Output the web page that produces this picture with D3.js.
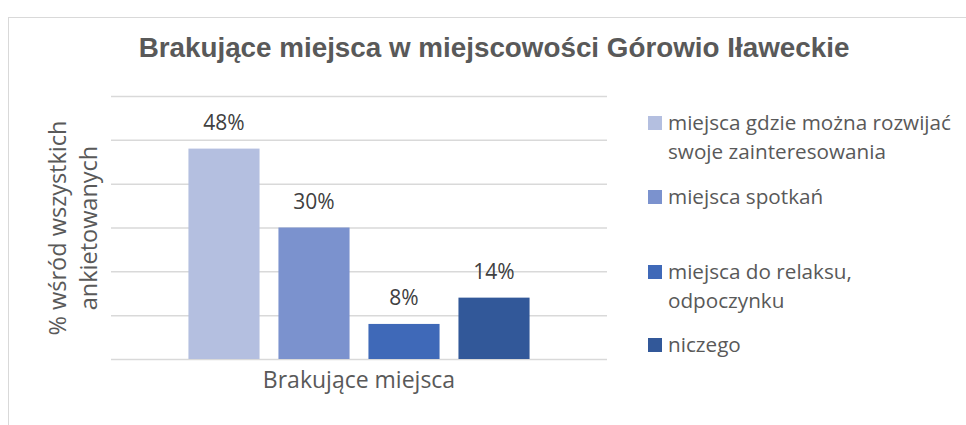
<!DOCTYPE html>
<html>
<head>
<meta charset="utf-8">
<title>Brakujące miejsca</title>
<script src="https://cdn.jsdelivr.net/npm/d3@7"></script>
<style>
  body { margin: 0; background: #fff; }
  text { font-family: "Open Sans", "Noto Sans", sans-serif; }
</style>
</head>
<body>
<div id="chart"></div>
<script>
// data
var categories = ["Brakujące miejsca"];
var series = ["miejsca gdzie można rozwijać swoje zainteresowania", "miejsca spotkań", "miejsca do relaksu, odpoczynku", "niczego"];
var legendLines = [["miejsca gdzie można rozwijać", "swoje zainteresowania"], ["miejsca spotkań"], ["miejsca do relaksu,", "odpoczynku"], ["niczego"]];
var values = [48, 30, 8, 14];
var yTicks = [0, 10, 20, 30, 40, 50, 60];
var colors = ["#b4bfe0", "#7b92ce", "#3f69b8", "#325899"];

var W = 966, H = 425;
var margin = { top: 96, left: 111, right: 359, bottom: 66 };
var width = W - margin.left - margin.right,
    height = H - margin.top - margin.bottom;

var svg = d3.select("#chart").append("svg")
    .attr("width", W)
    .attr("height", H);

// chart frame
svg.append("rect")
    .attr("x", 8.5).attr("y", 17.5)
    .attr("width", W + 10).attr("height", H + 10)
    .attr("fill", "none")
    .attr("stroke", "#d9d9d9")
    .attr("stroke-width", 1);

svg.append("text")
    .attr("x", 494).attr("y", 57)
    .attr("text-anchor", "middle")
    .style("font-family", "'Liberation Sans', Arial, sans-serif")
    .style("font-weight", "bold")
    .style("font-size", "27.8px")
    .attr("fill", "#595959")
    .text("Brakujące miejsca w miejscowości Górowio Iławeckie");

var g = svg.append("g")
    .attr("transform", "translate(" + margin.left + "," + margin.top + ")");

var x0 = d3.scaleBand().domain(categories).range([0, width]).paddingOuter(0.227);
var x1 = d3.scaleBand().domain(series).range([0, x0.bandwidth()]).paddingInner(0.21).paddingOuter(0);
var y = d3.scaleLinear().domain([0, 60]).range([height, 0]);

// gridlines
g.append("g")
    .call(d3.axisLeft(y).tickValues(yTicks).tickSize(-width).tickFormat(""))
    .call(function (a) {
      a.select(".domain").remove();
      a.selectAll("line").attr("stroke", "#d9d9d9").attr("stroke-width", 1.5);
    });

var bars = g.append("g")
  .selectAll("g")
  .data(categories)
  .enter().append("g")
    .attr("transform", function (c) { return "translate(" + x0(c) + ",0)"; });

bars.selectAll("rect")
  .data(series.map(function (s, i) { return { s: s, v: values[i], i: i }; }))
  .enter().append("rect")
    .attr("x", function (d) { return x1(d.s); })
    .attr("y", function (d) { return y(d.v); })
    .attr("width", x1.bandwidth())
    .attr("height", function (d) { return height - y(d.v); })
    .attr("fill", function (d) { return colors[d.i]; });

bars.selectAll("text.lbl")
  .data(series.map(function (s, i) { return { s: s, v: values[i] }; }))
  .enter().append("text")
    .attr("class", "lbl")
    .attr("x", function (d) { return x1(d.s) + x1.bandwidth() / 2; })
    .attr("y", function (d) { return y(d.v) - 19; })
    .attr("text-anchor", "middle")
    .style("font-size", "21px")
    .attr("fill", "#404040")
    .text(function (d) { return d.v + "%"; });

// x axis category label
g.append("g")
    .attr("transform", "translate(0," + height + ")")
    .call(d3.axisBottom(x0).tickSize(0))
    .call(function (a) {
      a.select(".domain").remove();
      a.selectAll("text")
        .style("font-family", "'Open Sans', 'Noto Sans', sans-serif")
        .style("font-size", "23px")
        .attr("fill", "#595959")
        .attr("y", 29)
        .attr("dy", 0);
    });

// y axis title
var yt = svg.append("text")
    .attr("transform", "translate(75,228) rotate(-90)")
    .attr("text-anchor", "middle")
    .style("font-size", "23.5px")
    .attr("fill", "#595959");
yt.append("tspan").attr("x", 0).attr("y", -9).text("% wśród wszystkich");
yt.append("tspan").attr("x", 0).attr("y", 22).text("ankietowanych");

// legend
var legendY = [123, 197, 272, 345];
var leg = svg.append("g").selectAll("g")
  .data(legendLines)
  .enter().append("g")
    .attr("transform", function (d, i) { return "translate(648," + legendY[i] + ")"; });

leg.append("rect")
    .attr("x", 0).attr("y", -7)
    .attr("width", 14).attr("height", 14)
    .attr("fill", function (d, i) { return colors[i]; });

leg.each(function (lines) {
  var t = d3.select(this).append("text")
      .attr("x", 20).attr("y", 0)
      .style("font-size", "20.7px")
      .attr("fill", "#595959");
  lines.forEach(function (l, j) {
    t.append("tspan").attr("x", 20).attr("y", j * 29).attr("dy", "0.35em").text(l);
  });
});
</script>
</body>
</html>
